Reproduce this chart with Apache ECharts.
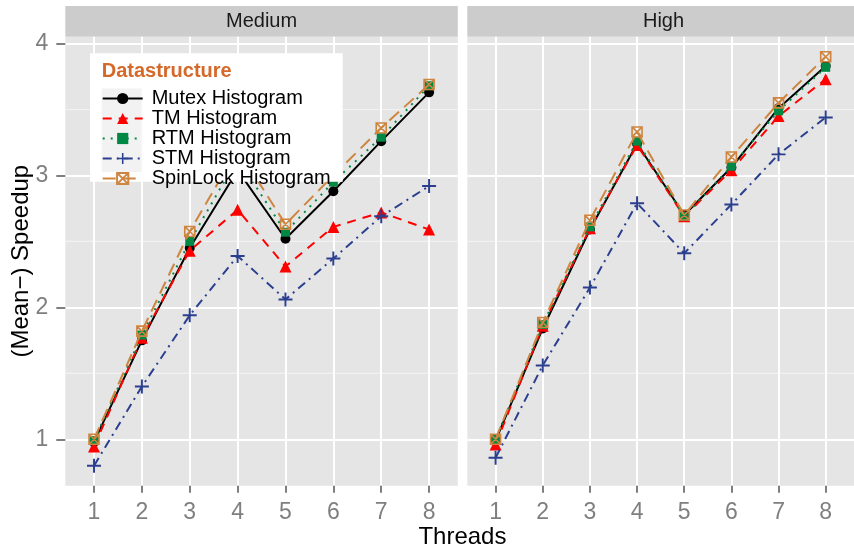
<!DOCTYPE html>
<html>
<head>
<meta charset="utf-8">
<script src="https://cdn.jsdelivr.net/npm/echarts@6/dist/echarts.min.js"></script>
<style>
html,body{margin:0;padding:0;background:#fff;}
#c{width:854px;height:548px;}
</style>
</head>
<body>
<div id="c"></div>
<script>
const threads = [1, 2, 3, 4, 5, 6, 7, 8];
const panels = ['Medium', 'High'];
const seriesNames = ['Mutex Histogram', 'TM Histogram', 'RTM Histogram', 'STM Histogram', 'SpinLock Histogram'];
const yTicks = [1, 2, 3, 4];
const yMinor = [1.5, 2.5, 3.5];

const mediumMutex    = [0.98, 1.75, 2.45, 3.04, 2.52, 2.88, 3.26, 3.63];
const mediumTM       = [0.945, 1.77, 2.43, 2.74, 2.31, 2.61, 2.72, 2.59];
const mediumRTM      = [0.99, 1.79, 2.50, 3.13, 2.57, 2.95, 3.29, 3.68];
const mediumSTM      = [0.80, 1.40, 1.94, 2.39, 2.06, 2.37, 2.69, 2.92];
const mediumSpinLock = [1.00, 1.82, 2.575, 3.20, 2.63, 3.00, 3.36, 3.69];

const highMutex    = [0.99, 1.84, 2.59, 3.24, 2.70, 3.06, 3.51, 3.83];
const highTM       = [0.96, 1.86, 2.60, 3.23, 2.69, 3.04, 3.45, 3.73];
const highRTM      = [1.00, 1.87, 2.61, 3.26, 2.69, 3.07, 3.49, 3.82];
const highSTM      = [0.86, 1.56, 2.15, 2.79, 2.41, 2.78, 3.16, 3.44];
const highSpinLock = [1.00, 1.885, 2.66, 3.33, 2.70, 3.14, 3.55, 3.90];

const panelData = [
  [mediumMutex, mediumTM, mediumRTM, mediumSTM, mediumSpinLock],
  [highMutex, highTM, highRTM, highSTM, highSpinLock]
];

const FONT = "'Liberation Sans', Arial, sans-serif";
const styles = [
  { color: '#000000', symbol: 'circle', size: 10, type: 'solid', fill: '#000000' },
  { color: '#FF0000', symbol: 'triangle', size: 12, type: [9, 7], fill: '#FF0000' },
  { color: '#008844', symbol: 'rect', size: 9, type: [2, 6], fill: '#008844' },
  { color: '#2B3F8F', symbol: 'path://M4.3,0H5.7V4.3H10V5.7H5.7V10H4.3V5.7H0V4.3H4.3Z', size: 14, type: [9, 5, 2, 5], fill: '#2B3F8F' },
  { color: '#CD853F', symbol: 'path://M0,0H10V10H0ZM0,0L10,10M10,0L0,10', size: 10, type: [13, 7], fill: 'rgba(0,0,0,0)', stroke: true }
];

const GRID_TOP = 36.7, GRID_H = 449, GRID_W = 392.5;
const gridLefts = [65.3, 467.3];
const Y_MIN = 0.648, Y_MAX = 4.052;

const grids = gridLefts.map(l => ({
  left: l, top: GRID_TOP, width: GRID_W, height: GRID_H,
  show: true, backgroundColor: '#E5E5E5', borderWidth: 0, containLabel: false
}));

const xAxes = gridLefts.map((l, i) => ({
  type: 'value', gridIndex: i, min: 0.4, max: 8.6,
  axisLine: { show: false },
  axisTick: { show: true, length: 7, lineStyle: { color: '#7F7F7F', width: 2 }, customValues: threads },
  axisLabel: { show: true, color: '#7F7F7F', fontSize: 23, fontFamily: FONT, margin: 15, customValues: threads },
  splitLine: { show: true, lineStyle: { color: '#FFFFFF', width: 2 } },
  z: 2
}));

const yAxes = gridLefts.map((l, i) => ({
  type: 'value', gridIndex: i, min: Y_MIN, max: Y_MAX, position: 'left',
  axisLine: { show: false },
  axisTick: { show: i === 0, length: 9, lineStyle: { color: '#7F7F7F', width: 2 }, customValues: yTicks },
  axisLabel: { show: i === 0, color: '#7F7F7F', fontSize: 23, fontFamily: FONT, margin: 17, customValues: yTicks },
  splitLine: { show: true, lineStyle: { color: '#FFFFFF', width: 2 } },
  z: 2
}));

const series = [];
panelData.forEach((arrs, p) => {
  arrs.forEach((vals, s) => {
    const st = styles[s];
    series.push({
      name: seriesNames[s],
      type: 'line',
      xAxisIndex: p, yAxisIndex: p,
      data: threads.map((t, k) => [t, vals[k]]),
      symbol: st.symbol,
      symbolSize: st.size,
      showSymbol: true,
      animation: false,
      lineStyle: { color: st.color, width: 2, type: st.type },
      itemStyle: st.stroke
        ? { color: st.fill, borderColor: st.color, borderWidth: 1.6 }
        : { color: st.fill, borderWidth: 0 },
      emphasis: { disabled: true },
      z: 3 + s * 0.1
    });
  });
});

const graphics = [];
// facet strips
panels.forEach((name, i) => {
  graphics.push({ type: 'rect', z: 1, shape: { x: gridLefts[i], y: 6, width: GRID_W, height: GRID_TOP - 6 }, style: { fill: '#CCCCCC' } });
  graphics.push({ type: 'text', z: 1, x: gridLefts[i] + GRID_W / 2, y: 21.5,
    style: { text: name, fill: '#1A1A1A', font: '20px ' + FONT, align: 'center', verticalAlign: 'middle' } });
});
// legend box
graphics.push({ type: 'rect', z: 4, shape: { x: 90, y: 53.3, width: 252.7, height: 128.4 }, style: { fill: '#FFFFFF' } });
graphics.push({ type: 'rect', z: 4, z2: 1, shape: { x: 101.7, y: 88.5, width: 40, height: 83.5 }, style: { fill: '#F2F2F2' } });
graphics.push({ type: 'text', z: 4, z2: 2, x: 101.7, y: 71,
  style: { text: 'Datastructure', fill: '#D4692A', font: 'bold 20px ' + FONT, align: 'left', verticalAlign: 'middle' } });
// axis titles
graphics.push({ type: 'text', z: 1, x: 21.5, y: 261.2, rotation: Math.PI / 2,
  style: { text: '(Mean\u2212) Speedup', fill: '#000000', font: '24px ' + FONT, align: 'center', verticalAlign: 'middle' } });
graphics.push({ type: 'text', z: 1, x: 462.4, y: 537,
  style: { text: 'Threads', fill: '#000000', font: '24px ' + FONT, align: 'center', verticalAlign: 'middle' } });

const chart = echarts.init(document.getElementById('c'), null, { renderer: 'canvas' });
chart.setOption({
  animation: false,
  backgroundColor: '#FFFFFF',
  grid: grids,
  xAxis: xAxes,
  yAxis: yAxes,
  series: series,
  legend: {
    show: true,
    orient: 'vertical',
    left: 101.7, top: 88.5,
    itemWidth: 40, itemHeight: 14, itemGap: 0,
    padding: 0,
    z: 5,
    data: seriesNames,
    selectedMode: false,
    textStyle: { fontSize: 20, fontFamily: FONT, color: '#000000', lineHeight: 16.7, padding: [0, 0, 0, 4] }
  },
  graphic: { elements: graphics }
});

// minor grid lines placed through the library's own y scale
try {
  const minorLines = [];
  gridLefts.forEach((l, i) => {
    yMinor.forEach(v => {
      const py = chart.convertToPixel({ yAxisIndex: i }, v);
      if (typeof py === 'number' && isFinite(py)) {
        minorLines.push({ type: 'line', z: 1.5, silent: true,
          shape: { x1: l, y1: py, x2: l + GRID_W, y2: py },
          style: { stroke: '#F2F2F2', lineWidth: 1.2 } });
      }
    });
  });
  chart.setOption({ graphic: { elements: graphics.concat(minorLines) } });
} catch (e) { /* keep chart without minor lines */ }
</script>
</body>
</html>
